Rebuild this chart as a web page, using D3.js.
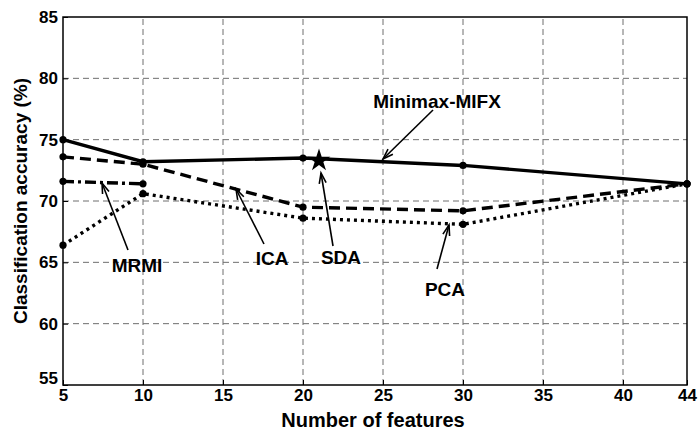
<!DOCTYPE html>
<html>
<head>
<meta charset="utf-8">
<script src="https://cdn.jsdelivr.net/npm/d3@7"></script>
<style>
  body { margin: 0; background: #fff; }
  text { font-family: "Liberation Sans", Arial, sans-serif; font-weight: bold; }
</style>
</head>
<body>
<svg width="699" height="432"></svg>
<script>
// data
const features = [5, 10, 20, 30, 44];
const minimaxMifx = [75.0, 73.2, 73.5, 72.9, 71.4];
const ica = [73.6, 73.0, 69.5, 69.2, 71.4];
const pca = [66.4, 70.6, 68.6, 68.1, 71.4];
const mrmiX = [5, 10];
const mrmi = [71.6, 71.4];
const sdaPoint = [21, 73.3];
const xTicks = [5, 10, 15, 20, 25, 30, 35, 40, 44];
const yTicks = [55, 60, 65, 70, 75, 80, 85];

const margin = { top: 17, right: 12, bottom: 47, left: 63 };
const width = 699, height = 432;

const svg = d3.select("svg");

const x = d3.scaleLinear().domain([5, 44]).range([margin.left, width - margin.right]);
const y = d3.scaleLinear().domain([55, 85]).range([height - margin.bottom, margin.top]);

// grid
const grid = svg.append("g")
  .attr("stroke", "#6e6e6e")
  .attr("stroke-width", 1)
  .attr("stroke-dasharray", "6,4");

grid.selectAll("line.vx")
  .data(xTicks.filter(d => d > 5 && d < 44))
  .enter().append("line")
  .attr("x1", d => x(d)).attr("x2", d => x(d))
  .attr("y1", y(55)).attr("y2", y(85));

grid.selectAll("line.hy")
  .data(yTicks.filter(d => d > 55 && d < 85))
  .enter().append("line")
  .attr("x1", x(5)).attr("x2", x(44))
  .attr("y1", d => y(d)).attr("y2", d => y(d));

// axes
const xAxis = d3.axisBottom(x).tickValues(xTicks).tickSize(-5).tickPadding(6).tickSizeOuter(0);
const yAxis = d3.axisLeft(y).tickValues(yTicks).tickSize(-5).tickPadding(5).tickSizeOuter(0);

const gx = svg.append("g")
  .attr("transform", `translate(0,${y(55)})`)
  .call(xAxis);
const gy = svg.append("g")
  .attr("transform", `translate(${x(5)},0)`)
  .call(yAxis);

[gx, gy].forEach(g => {
  g.select(".domain").remove();
  g.selectAll(".tick line").attr("stroke", "#000");
  g.selectAll(".tick text")
    .attr("fill", "#000")
    .style("font-size", "17px")
    .style("font-family", "'Liberation Sans', Arial, sans-serif")
    .style("font-weight", "bold");
});
gx.selectAll(".tick text").attr("dy", "0.6em");
gy.selectAll(".tick text").attr("dy", d => d === 55 ? "-0.1em" : "0.32em");

// plot box
svg.append("rect")
  .attr("x", x(5)).attr("y", y(85))
  .attr("width", x(44) - x(5)).attr("height", y(55) - y(85))
  .attr("fill", "none").attr("stroke", "#000").attr("stroke-width", 1.5);

// lines
const line = d3.line().x(d => x(d[0])).y(d => y(d[1]));

const series = [
  { xs: mrmiX, ys: mrmi, dash: "11,4,3,4" },
  { xs: features, ys: pca, dash: "3,4" },
  { xs: features, ys: ica, dash: "11,6" },
  { xs: features, ys: minimaxMifx, dash: null }
];

series.forEach(s => {
  const pts = s.xs.map((d, i) => [d, s.ys[i]]);
  svg.append("path")
    .datum(pts)
    .attr("d", line)
    .attr("fill", "none")
    .attr("stroke", "#000")
    .attr("stroke-width", 3.4)
    .attr("stroke-dasharray", s.dash);
  svg.append("g").selectAll("circle")
    .data(pts)
    .enter().append("circle")
    .attr("cx", d => x(d[0]))
    .attr("cy", d => y(d[1]))
    .attr("r", 3.6)
    .attr("fill", "#000");
});

// SDA star
svg.append("path")
  .attr("d", d3.symbol(d3.symbolStar, 160)())
  .attr("transform", `translate(${x(sdaPoint[0])},${y(sdaPoint[1])})`)
  .attr("fill", "#000");

// annotations
const notes = [
  { label: "Minimax-MIFX", tx: 437, ty: 108, from: [433, 110], to: [383, 159] },
  { label: "MRMI", tx: 137, ty: 272, from: [128, 250], to: [102, 183] },
  { label: "ICA", tx: 272, ty: 265, from: [264, 244], to: [236, 189] },
  { label: "SDA", tx: 341, ty: 264, from: [333, 246], to: [321, 173] },
  { label: "PCA", tx: 445, ty: 296, from: [437, 269], to: [449, 225] }
];

const ann = svg.append("g");
notes.forEach(n => {
  const [x1, y1] = n.from, [x2, y2] = n.to;
  const ang = Math.atan2(y2 - y1, x2 - x1);
  const len = 11, spread = 0.32;
  ann.append("line")
    .attr("x1", x1).attr("y1", y1).attr("x2", x2).attr("y2", y2)
    .attr("stroke", "#000").attr("stroke-width", 1.6);
  ann.append("path")
    .attr("d", d3.line()([
      [x2 - len * Math.cos(ang - spread), y2 - len * Math.sin(ang - spread)],
      [x2, y2],
      [x2 - len * Math.cos(ang + spread), y2 - len * Math.sin(ang + spread)]
    ]))
    .attr("fill", "none").attr("stroke", "#000").attr("stroke-width", 1.6);
  ann.append("text")
    .attr("x", n.tx).attr("y", n.ty)
    .attr("text-anchor", "middle")
    .style("font-size", "19px")
    .text(n.label);
});

// axis titles
svg.append("text")
  .attr("x", 373).attr("y", 427)
  .attr("text-anchor", "middle")
  .style("font-size", "20px")
  .text("Number of features");

svg.append("text")
  .attr("transform", `translate(27,${(y(55) + y(85)) / 2}) rotate(-90)`)
  .attr("text-anchor", "middle")
  .style("font-size", "19px")
  .text("Classification accuracy (%)");
</script>
</body>
</html>
